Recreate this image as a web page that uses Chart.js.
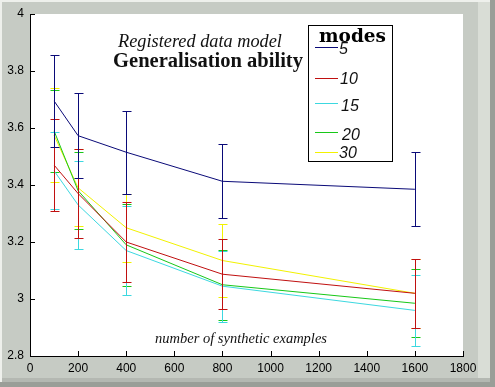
<!DOCTYPE html>
<html lang="en">
<head>
    <meta charset="UTF-8">
    <title>Generalisation ability</title>
    <script src="https://cdn.jsdelivr.net/npm/chart.js"></script>
    <style>
        html, body { margin: 0; padding: 0; background: #c6cbc4; }
        #wrap { width: 495px; height: 387px; }
    </style>
</head>
<body>
    <div id="wrap"><canvas id="chart" width="495" height="387"></canvas></div>

    <script>
        // values
        const sampleSizes = [100, 200, 400, 800, 1600];
        const modeLabels = ['5', '10', '15', '20', '30'];
        const mean5  = [3.695, 3.573, 3.515, 3.413, 3.385];
        const err5   = [0.16, 0.15, 0.145, 0.13, 0.13];
        const mean10 = [3.47, 3.37, 3.20, 3.087, 3.02];
        const err10  = [0.16, 0.155, 0.14, 0.122, 0.12];
        const mean15 = [3.45, 3.33, 3.17, 3.045, 2.96];
        const err15  = [0.135, 0.155, 0.155, 0.125, 0.125];
        const mean20 = [3.59, 3.38, 3.19, 3.05, 2.985];
        const err20  = [0.145, 0.135, 0.145, 0.122, 0.12];
        const mean30 = [3.575, 3.39, 3.25, 3.135, 3.02];
        const err30  = [0.165, 0.135, 0.12, 0.128, 0.12];
        const xTicks = [0, 200, 400, 600, 800, 1000, 1200, 1400, 1600, 1800];
        const yTicks = [2.8, 3, 3.2, 3.4, 3.6, 3.8, 4];

        const colors = ['#0a0a78', '#c01010', '#3cd8e0', '#18c818', '#f2f200'];
        const means = [mean5, mean10, mean15, mean20, mean30];
        const errs = [err5, err10, err15, err20, err30];

        const tickFont = { family: 'Liberation Sans', size: 12 };

        // draw text so that it spans a given width
        function fitText(ctx, text, style, family, width, x, y, align) {
            ctx.font = `${style} 20px "${family}"`;
            const size = 20 * width / ctx.measureText(text).width;
            ctx.font = `${style} ${size.toFixed(2)}px "${family}"`;
            ctx.textAlign = align || 'left';
            ctx.textBaseline = 'alphabetic';
            ctx.fillText(text, x, y);
        }

        const framePlugin = {
            id: 'frame',
            beforeDraw(chart) {
                const ctx = chart.ctx;
                const W = chart.width, H = chart.height;
                const a = chart.chartArea;
                ctx.save();
                ctx.fillStyle = '#c6cbc4';
                ctx.fillRect(0, 0, W, H);
                // bevel
                ctx.fillStyle = '#eef0ec';
                ctx.fillRect(0, 0, W, 2);
                ctx.fillRect(0, 0, 2, H);
                ctx.fillStyle = '#d9ddd6';
                ctx.fillRect(478, 2, 12, H - 8);
                ctx.fillStyle = '#9a9e98';
                ctx.fillRect(490, 0, 5, H);
                ctx.fillRect(0, H - 5, W, 5);
                ctx.fillStyle = '#b4b8b2';
                ctx.fillRect(2, H - 9, W - 7, 4);
                // plot background
                ctx.fillStyle = '#ffffff';
                ctx.fillRect(a.left, a.top, a.right - a.left, a.bottom - a.top);
                ctx.restore();
            }
        };

        const errorBarPlugin = {
            id: 'errorBars',
            afterDatasetDraw(chart, args) {
                const ds = chart.data.datasets[args.index];
                const xs = chart.scales.x, ys = chart.scales.y;
                const ctx = chart.ctx;
                ctx.save();
                ctx.strokeStyle = ds.borderColor;
                ctx.lineWidth = 1;
                ds.data.forEach((p, i) => {
                    const px = Math.round(xs.getPixelForValue(p.x)) + 0.5;
                    const top = Math.round(ys.getPixelForValue(p.y + ds.errors[i])) + 0.5;
                    const bot = Math.round(ys.getPixelForValue(p.y - ds.errors[i])) + 0.5;
                    ctx.beginPath();
                    ctx.moveTo(px, top); ctx.lineTo(px, bot);
                    ctx.moveTo(px - 4, top); ctx.lineTo(px + 5, top);
                    ctx.moveTo(px - 4, bot); ctx.lineTo(px + 5, bot);
                    ctx.stroke();
                });
                ctx.restore();
            }
        };

        const decorPlugin = {
            id: 'decor',
            afterDraw(chart) {
                const ctx = chart.ctx;
                const xs = chart.scales.x, ys = chart.scales.y;
                const a = chart.chartArea;
                ctx.save();
                // inward tick marks
                ctx.strokeStyle = '#000';
                ctx.lineWidth = 1;
                ctx.beginPath();
                xTicks.forEach(v => {
                    const px = Math.round(xs.getPixelForValue(v)) + 0.5;
                    ctx.moveTo(px, a.bottom); ctx.lineTo(px, a.bottom - 5);
                });
                yTicks.forEach(v => {
                    const py = Math.round(ys.getPixelForValue(v)) + 0.5;
                    ctx.moveTo(a.left, py); ctx.lineTo(a.left + 5, py);
                });
                ctx.stroke();

                ctx.fillStyle = '#111';
                fitText(ctx, 'Registered data model', 'italic', 'Liberation Serif', 164, 200, 46.5, 'center');
                fitText(ctx, 'Generalisation ability', 'bold', 'Liberation Serif', 190, 208, 67, 'center');
                fitText(ctx, 'number of synthetic examples', 'italic', 'Liberation Serif', 172, 241, 343, 'center');

                // legend box
                const bx = 308, by = 25, bw = 84, bh = 136;
                ctx.fillStyle = '#fff';
                ctx.fillRect(bx, by, bw, bh);
                ctx.strokeStyle = '#000';
                ctx.strokeRect(bx + 0.5, by + 0.5, bw, bh);
                ctx.fillStyle = '#000';
                fitText(ctx, 'modes', 'bold', 'DejaVu Serif', 67, 319, 42);
                const lineY = [47, 78, 103, 132, 152];
                const textY = [54, 84, 110.5, 140, 158];
                const textX = [339, 340, 341, 342, 339];
                chart.data.datasets.forEach((ds, i) => {
                    ctx.strokeStyle = ds.borderColor;
                    ctx.beginPath();
                    ctx.moveTo(315, lineY[i] + 0.5);
                    ctx.lineTo(338, lineY[i] + 0.5);
                    ctx.stroke();
                    ctx.fillStyle = '#111';
                    ctx.font = 'italic 16px "Liberation Sans"';
                    ctx.textAlign = 'left';
                    ctx.fillText(ds.label, textX[i], textY[i]);
                });
                ctx.restore();
            }
        };

        const datasets = modeLabels.map((label, k) => ({
            label: label,
            data: sampleSizes.map((x, i) => ({ x: x, y: means[k][i] })),
            errors: errs[k],
            borderColor: colors[k],
            borderWidth: 1,
            pointRadius: 0,
            tension: 0,
            fill: false
        }));

        new Chart(document.getElementById('chart'), {
            type: 'line',
            data: { datasets: datasets },
            options: {
                responsive: false,
                animation: false,
                devicePixelRatio: 1,
                layout: { padding: { top: 14, right: 32, left: 0, bottom: 0 } },
                plugins: { legend: { display: false }, tooltip: { enabled: false } },
                scales: {
                    x: {
                        type: 'linear',
                        min: 0, max: 1800,
                        afterBuildTicks: s => { s.ticks = xTicks.map(v => ({ value: v })); },
                        afterFit: s => { s.height = 31; },
                        grid: { display: false, drawTicks: false, tickLength: 0 },
                        border: { display: true, color: '#000', width: 1 },
                        ticks: { font: tickFont, color: '#000', padding: 5, maxRotation: 0, autoSkip: false,
                                 callback: v => String(v) }
                    },
                    y: {
                        min: 2.8, max: 4,
                        afterBuildTicks: s => { s.ticks = yTicks.map(v => ({ value: v })); },
                        afterFit: s => { s.width = 30; },
                        grid: { display: false, drawTicks: false, tickLength: 0 },
                        border: { display: true, color: '#000', width: 1 },
                        ticks: { font: tickFont, color: '#000', padding: 6, autoSkip: false,
                                 callback: v => String(Math.round(v * 10) / 10) }
                    }
                }
            },
            plugins: [framePlugin, errorBarPlugin, decorPlugin]
        });
    </script>
</body>
</html>
